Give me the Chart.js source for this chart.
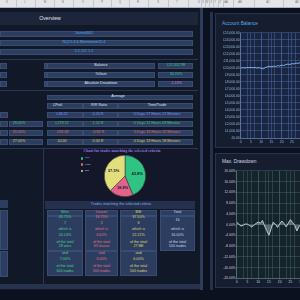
<!DOCTYPE html>
<html>
<head>
<meta charset="utf-8">
<script src="https://cdn.jsdelivr.net/npm/chart.js@4.4.1/dist/chart.umd.min.js"></script>
<style>
html, body { margin: 0; padding: 0; width: 300px; height: 300px; overflow: hidden; background: #0c1120; font-family: "Liberation Sans", Arial, sans-serif; }
.abs { position: absolute; box-sizing: border-box; }
.tx { position: absolute; white-space: nowrap; line-height: 1; }
canvas { position: absolute; }
</style>
</head>
<body>
<canvas id="balance" width="106" height="115"></canvas>
<canvas id="drawdown" width="111" height="116"></canvas>
<canvas id="pie" width="42" height="42"></canvas>
<script>
"use strict"

// chart data
const tradeNumbers = [0, 1, 2, 3, 4, 5, 6, 7, 8, 9, 10, 11, 12, 13, 14, 15, 16, 17, 18, 19, 20, 21, 22, 23, 24, 25, 26, 27, 28, 29, 30, 31, 32, 33, 34];
const balanceValues = [10000, 10040, 9990, 10060, 10030, 10090, 10020, 10070, 9990, 10040, 9950, 9880, 10050, 10160, 10240, 10180, 10260, 10210, 10330, 10290, 10410, 10350, 10480, 10560, 10500, 10620, 10580, 10700, 10650, 10760, 10690, 10740, 10700, 10780, 10720];
const drawdownValues = [1.0, 0.2, -0.5, -0.2, 0.3, 0.2, -0.3, -0.8, -0.2, 0.5, 1.0, 0.6, 1.6, -0.5, -2.2, -3.9, -1.5, 1.0, 0.2, -1.0, 0.3, 1.4, 0.5, -0.8, 0.6, 1.9, 0.8, -0.2, -2.3, -0.6, 0.4, 1.0, 0.1, -0.8, 0.3];
const pieLabels = ["Win", "Loss", "B/E"];
const pieCounts = [7, 3, 6];
const pieColors = ["#2fc384", "#e2628e", "#e2de7c"];

// sheet texts
const sheetColumns = ["K", "L", "M", "N", "O", "P", "Q", "R", "S", "T", "U", "V", "W", "X", "Y", "Z", "AA", "AB", "AC", "AD"];
const infoRows = ["Journal001", "NQ15.4 & Momentum15.4", "1.5, DC 1.1"];
const summaryLabels = ["Balance", "%Gain", "Absolute Drawdown"];
const summaryValues = ["£11,502.98", "30.20%", "-1.13%"];
const averageHeaders = ["£Prof.", "R/R Ratio", "Time/Trade"];
const averageShares = ["", "29.00%", "65.00%", "27.00%"];
const averageProfit = ["£36.22", "£279.72", "-£93.08", "£0.00"];
const averageRR = ["0.20 R", "1.52 R", "-0.92 R", "0.00 R"];
const averageTime = ["0 Days 17 Hours 21 Minutes", "0 Days 11 Hours 09 Minutes", "0 Days 15 Hours 32 Minutes", "0 Days 19 Hours 58 Minutes"];
const tradeTypes = ["Wins", "Losses", "B/E"];
const shareOfSelected = ["43.75%", "18.75%", "37.50%"];
const shareOfType = ["24.14%", "4.62%", "22.22%"];
const typeTotals = ["29 wins", "65 losses", "27 BE"];
const shareOfAll = ["7.00%", "3.00%", "6.00%"];
const selectedTotal = "16";
const selectedShare = "16.00%";

const rowColours = ["#7693f4", "#3ac87f", "#ea5f5f", "#dccf5e"];
const typeColours = ["#44d690", "#e86d82", "#dfd870"];

const plotBg = {
    id: "plotBg",
    beforeDraw(chart, args, opts) {
        const a = chart.chartArea;
        chart.ctx.save();
        chart.ctx.fillStyle = opts.color;
        chart.ctx.fillRect(a.left, a.top, a.right - a.left, a.bottom - a.top);
        chart.ctx.restore();
    }
};

const sliceLabels = {
    id: "sliceLabels",
    afterDatasetsDraw(chart) {
        const ctx = chart.ctx;
        const values = chart.data.datasets[0].data;
        const total = values.reduce((s, v) => s + v, 0);
        ctx.save();
        ctx.font = "bold 4px 'Liberation Sans'";
        ctx.fillStyle = "#1b1b1b";
        ctx.textAlign = "center";
        ctx.textBaseline = "middle";
        chart.getDatasetMeta(0).data.forEach((arc, i) => {
            const p = arc.getProps(["x", "y", "startAngle", "endAngle", "outerRadius"]);
            const mid = (p.startAngle + p.endAngle) / 2;
            const r = p.outerRadius * 0.6;
            ctx.fillText((values[i] / total * 100).toFixed(1) + "%", p.x + Math.cos(mid) * r, p.y + Math.sin(mid) * r);
        });
        ctx.restore();
    }
};

class Dashboard {

    box(x, y, w, h, bg, border) {
        const d = document.createElement("div");
        d.className = "abs";
        d.style.cssText = `left:${x}px;top:${y}px;width:${w}px;height:${h}px;background:${bg};` + (border ? `border:1px solid ${border};` : "");
        document.body.insertBefore(d, document.getElementById("balance"));
        return d;
    }

    text(x, y, s, color, size, align, extra) {
        const d = document.createElement("div");
        d.className = "tx";
        d.textContent = s;
        const tr = align === "left" ? "translate(0,-50%)" : "translate(-50%,-50%)";
        d.style.cssText = `left:${x}px;top:${y}px;color:${color};font-size:${size}px;transform:${tr};` + (extra || "");
        document.body.appendChild(d);
        return d;
    }

    cell(x, y, w, h) {
        return this.box(x, y, w, h, "#2d3d60", "#384c74");
    }

    buildSheet() {
        const fs = 3.7;

        // spreadsheet column strip
        this.box(0, 0, 300, 6.5, "#e3e5e9");
        this.box(0, 6.5, 300, 0.6, "#aeb4bd");
        const centres = [7, 25, 45, 63, 83, 102, 120, 138, 158, 177, 199, 203, 207, 211, 215, 220, 226, 240, 268, 297];
        sheetColumns.forEach((c, i) => {
            this.text(centres[i], 3.3, c, "#6a6f78", 2.6);
            if (i > 0) this.box((centres[i] + centres[i - 1]) / 2, 0, 0.5, 6.5, "#c3c7cd");
        });

        // left overview panel
        this.box(0, 8, 200, 282, "#111828");
        this.box(200, 8, 3, 282, "#2e3b59");
        this.box(210, 12, 3, 278, "#26314c");
        this.box(0, 12, 198, 13, "#1c253a");
        this.text(50, 18.8, "Overview", "#e2e7f0", 5.2);

        infoRows.forEach((s, i) => {
            const y = 31 + i * 9;
            this.cell(0, y, 193, 5.8);
            this.text(84, y + 2.9, s, "#4fa8ea", fs);
        });
        this.box(0, 58.5, 198, 1, "#2b3654");

        summaryLabels.forEach((s, i) => {
            const y = 63.3 + i * 9;
            this.cell(0, y, 7, 5.8);
            this.cell(44, y, 3, 5.8);
            this.cell(47, y, 108, 5.8);
            this.cell(158, y, 35, 5.8);
            this.text(101, y + 2.9, s, "#dde2ec", fs);
            this.text(176, y + 2.9, summaryValues[i], i < 2 ? "#3ac87f" : "#cf82e2", fs);
        });
        this.box(0, 90, 198, 1, "#2b3654");

        this.cell(47, 94.5, 146, 5.8);
        this.text(118, 97.4, "Average", "#dde2ec", fs);
        this.cell(47, 103.3, 35.5, 5.8);
        this.cell(82.5, 103.3, 35, 5.8);
        this.cell(117.5, 103.3, 75.5, 5.8);
        this.text(58, 106.2, averageHeaders[0], "#dde2ec", fs);
        this.text(99, 106.2, averageHeaders[1], "#dde2ec", fs);
        this.text(157, 106.2, averageHeaders[2], "#dde2ec", fs);

        averageProfit.forEach((s, i) => {
            const y = 112.2 + i * 9;
            const c = rowColours[i];
            this.cell(0, y, 8, 5.8);
            if (averageShares[i]) {
                this.cell(9, y, 34, 5.8);
                this.text(19, y + 2.9, averageShares[i], c, fs);
            }
            this.cell(47, y, 35.5, 5.8);
            this.cell(82.5, y, 35, 5.8);
            this.cell(117.5, y, 75.5, 5.8);
            this.text(62, y + 2.9, s, c, fs);
            this.text(98, y + 2.9, averageRR[i], c, fs);
            this.text(157, y + 2.9, averageTime[i], c, fs);
        });
        this.box(0, 147.5, 198, 1, "#2b3654");

        // lower area: pie and trade table
        this.box(43, 148.5, 1, 135, "#2b3654");
        this.box(44, 148.5, 154, 51, "#14162a");
        this.text(122, 152.4, "Chart for trades matching the selected criteria", "#9379e2", 3.9, "center", "font-family:'Liberation Serif';font-weight:bold;");
        pieLabels.forEach((s, i) => {
            const y = 158.3 + i * 6.3;
            const dot = this.box(80.8, y - 1.3, 2.6, 2.6, pieColors[i]);
            dot.style.borderRadius = "50%";
            this.text(85, y, s, "#c2c6da", 2.5, "left");
        });

        this.box(0, 200, 8, 8, "#2d3d60");
        this.box(0, 210, 8, 40, "#2d3d60", "#384c74");
        this.box(0, 251, 8, 26, "#2d3d60", "#384c74");

        this.box(45, 200.5, 150, 8.5, "#25304e");
        this.text(121, 204.9, "Trades matching the selected criteria", "#80acf0", fs);
        const colX = [47, 85, 120];
        const colW = [36, 33, 37];
        tradeTypes.forEach((s, i) => {
            const cx = colX[i] + colW[i] / 2;
            const c = typeColours[i];
            this.cell(colX[i], 210, colW[i], 5.6);
            this.cell(colX[i], 216, colW[i], 34.5);
            this.cell(colX[i], 251, colW[i], 25);
            this.text(cx, 212.8, s, c, fs);
            this.text(cx, 218.4, shareOfSelected[i], c, fs);
            this.text(cx, 224.3, pieCounts[i] + "", c, fs);
            this.text(cx, 230, "which is", c, fs);
            this.text(cx, 235.7, shareOfType[i], c, fs);
            this.text(cx, 242.6, "of the total", c, fs);
            this.text(cx, 247.3, typeTotals[i], c, fs);
            this.text(cx, 254, "and", c, fs);
            this.text(cx, 260, shareOfAll[i], c, fs);
            this.text(cx, 266.7, "of the total", c, fs);
            this.text(cx, 271.6, "100 trades", c, fs);
        });
        this.cell(160, 210, 35, 5.6);
        this.cell(160, 216, 35, 34.5);
        this.text(177.5, 212.8, "Total", "#c9d5ee", fs);
        this.text(177.5, 221.3, selectedTotal, "#c9d5ee", fs);
        this.text(177.5, 230, "which is", "#c9d5ee", fs);
        this.text(177.5, 235.7, selectedShare, "#c9d5ee", fs);
        this.text(177.5, 242.6, "of the total", "#c9d5ee", fs);
        this.text(177.5, 247.3, "100 trades", "#c9d5ee", fs);

        this.box(0, 284, 200, 5, "#27324d");

        // right chart panels
        this.box(215, 13, 86, 135, "#151d2e", "#27344f");
        this.box(215, 153, 86, 135, "#151d2e", "#27344f");
        this.text(222, 24.2, "Account Balance", "#5aaae6", 4.8, "left");
        this.text(222, 162.3, "Max. Drawdown", "#d3d8e0", 4.8, "left");
    }

    place(id, x, y) {
        const c = document.getElementById(id);
        c.style.left = x + "px";
        c.style.top = y + "px";
        document.body.appendChild(c);
        return c;
    }

    initBalanceChart() {
        const canvas = this.place("balance", 219, 29.6);
        new Chart(canvas, {
            type: "line",
            data: {
                datasets: [{
                    data: tradeNumbers.map((t, i) => ({ x: t, y: balanceValues[i] })),
                    borderColor: "#8cbff0",
                    borderWidth: 0.9,
                    pointRadius: 0,
                    tension: 0
                }]
            },
            options: {
                responsive: false,
                animation: false,
                events: [],
                layout: { padding: 0 },
                plugins: { legend: { display: false }, tooltip: { enabled: false }, plotBg: { color: "#1a2541" } },
                scales: {
                    x: {
                        type: "linear", min: 0, max: 40,
                        ticks: { stepSize: 5, color: "#96bcec", font: { size: 3.3 }, padding: 0.5, maxRotation: 0 },
                        grid: { color: "#4b6ba6", lineWidth: 0.5, tickLength: 1.5 },
                        border: { color: "#6d86b0", width: 0.6 },
                        afterFit: (s) => { s.height = 7; }
                    },
                    xg: {
                        type: "linear", position: "bottom", min: 0, max: 40,
                        ticks: { display: false, stepSize: 10 / 3 },
                        grid: { color: "#4b6ba6", lineWidth: 0.5, drawTicks: false },
                        border: { display: false },
                        afterFit: (s) => { s.height = 0; }
                    },
                    y: {
                        min: 0, max: 15000,
                        ticks: {
                            stepSize: 1000, color: "#96bcec", font: { size: 3.3 }, padding: 1,
                            callback: (v) => "£" + v.toLocaleString("en-GB", { minimumFractionDigits: 2, maximumFractionDigits: 2 })
                        },
                        grid: { color: "#4b6ba6", lineWidth: 0.5, drawTicks: false },
                        border: { color: "#6d86b0", width: 0.6 },
                        afterFit: (s) => { s.width = 21.7; }
                    }
                }
            },
            plugins: [plotBg]
        });
    }

    initDrawdownChart() {
        const canvas = this.place("drawdown", 214, 168.1);
        new Chart(canvas, {
            type: "line",
            data: {
                datasets: [{
                    data: tradeNumbers.map((t, i) => ({ x: t, y: drawdownValues[i] })),
                    borderColor: "#cbd5db",
                    backgroundColor: "rgba(170,184,190,0.45)",
                    fill: "origin",
                    borderWidth: 0.9,
                    pointRadius: 0,
                    tension: 0
                }]
            },
            options: {
                responsive: false,
                animation: false,
                events: [],
                layout: { padding: 0 },
                plugins: { legend: { display: false }, tooltip: { enabled: false }, plotBg: { color: "#17232b" } },
                scales: {
                    x: {
                        type: "linear", min: 0, max: 40,
                        ticks: { stepSize: 5, color: "#c8cdd5", font: { size: 3.3 }, padding: 0.5, maxRotation: 0 },
                        grid: { color: "#3a6668", lineWidth: 0.5, tickLength: 1.5 },
                        border: { color: "#5c8486", width: 0.6 },
                        afterFit: (s) => { s.height = 5.5; }
                    },
                    xg: {
                        type: "linear", position: "bottom", min: 0, max: 40,
                        ticks: { display: false, stepSize: 10 / 3 },
                        grid: { color: "#3a6668", lineWidth: 0.5, drawTicks: false },
                        border: { display: false },
                        afterFit: (s) => { s.height = 0; }
                    },
                    y: {
                        min: -20, max: 20,
                        ticks: { stepSize: 2, color: "#c8cdd5", font: { size: 3.3 }, padding: 1, callback: (v) => v.toFixed(2) + "%" },
                        grid: { color: "#3a6668", lineWidth: 0.5, drawTicks: false },
                        border: { color: "#5c8486", width: 0.6 },
                        afterFit: (s) => { s.width = 22.7; }
                    }
                }
            },
            plugins: [plotBg]
        });
    }

    initPieChart() {
        const canvas = this.place("pie", 104, 155);
        new Chart(canvas, {
            type: "pie",
            data: {
                labels: pieLabels,
                datasets: [{ data: pieCounts, backgroundColor: pieColors, borderColor: "#3b3b3b", borderWidth: 0.6 }]
            },
            options: {
                responsive: false,
                animation: false,
                events: [],
                layout: { padding: 0 },
                plugins: { legend: { display: false }, tooltip: { enabled: false } }
            },
            plugins: [sliceLabels]
        });
    }

    run() {
        this.buildSheet();
        this.initBalanceChart();
        this.initDrawdownChart();
        this.initPieChart();
    }
}

new Dashboard().run();
</script>
</body>
</html>
